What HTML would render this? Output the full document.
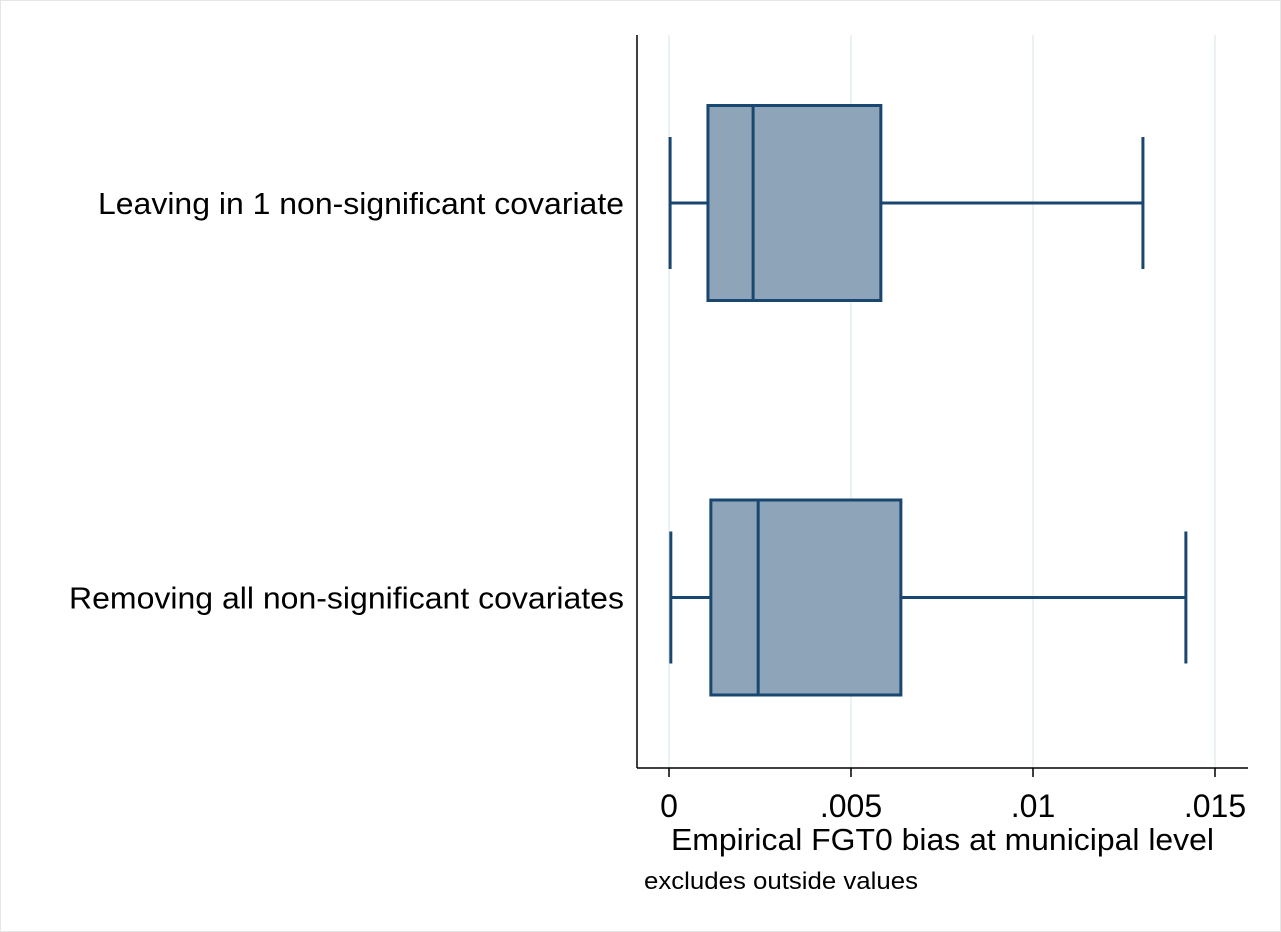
<!DOCTYPE html>
<html><head><meta charset="utf-8"><style>
html,body{margin:0;padding:0;background:#fff;}
svg{display:block;font-family:"Liberation Sans",Arial,sans-serif;}
</style></head><body>
<svg id="chart" width="1281" height="932" viewBox="0 0 1281 932">
<rect x="0.5" y="0.5" width="1280" height="931" fill="#fff" stroke="#e6e6e6"/>
<g id="grid"></g>
<g id="boxes"></g>
<line x1="637" y1="35" x2="637" y2="768" stroke="#000" stroke-width="1.5"/>
<line x1="637" y1="768" x2="1248" y2="768" stroke="#000" stroke-width="1.5"/>
<g id="xticks"></g>
<g id="ylabels"></g>
<text x="671" y="850" font-size="31" textLength="543" lengthAdjust="spacingAndGlyphs">Empirical FGT0 bias at municipal level</text>
<text x="644" y="889" font-size="24" textLength="274" lengthAdjust="spacingAndGlyphs">excludes outside values</text>
</svg>
<script>
const categories = ["Leaving in 1 non-significant covariate","Removing all non-significant covariates"];
const whiskerLow = [0.00003, 0.00005];
const q1 = [0.00107, 0.00115];
const median = [0.00231, 0.00245];
const q3 = [0.00582, 0.00637];
const whiskerHigh = [0.01302, 0.01420];
const tickValues = [0, 0.005, 0.01, 0.015];
const tickLabels = ["0", ".005", ".01", ".015"];

const NS = "http://www.w3.org/2000/svg";
const xs = v => 669 + v * 36400;
const yc = i => 203 + i * 394.5;
function mk(tag, attrs, parent){const e=document.createElementNS(NS,tag);for(const k in attrs)e.setAttribute(k,attrs[k]);parent.appendChild(e);return e;}
const grid=document.getElementById('grid'), xt=document.getElementById('xticks'), yl=document.getElementById('ylabels'), bx=document.getElementById('boxes');
tickValues.forEach((v,i)=>{
  const g=mk('line',{x1:xs(v),x2:xs(v),y1:35,y2:768,stroke:'#eaf2f3','stroke-width':2},grid);
  
  
  const t=mk('line',{x1:xs(v),x2:xs(v),y1:768,y2:777,stroke:'#000','stroke-width':1.5},xt);
  
  
  const l=mk('text',{x:xs(v),y:817,'font-size':32,'text-anchor':'middle'},xt);
  l.textContent=tickLabels[i];
  
  
});
const labelW=[526,555];
categories.forEach((c,i)=>{
  const y=yc(i);
  const l=mk('text',{x:624,y:y+11,'font-size':31,'text-anchor':'end',textLength:labelW[i],lengthAdjust:'spacingAndGlyphs'},yl);
  l.textContent=c;
  
  
  const st={stroke:'#1a476f','stroke-width':3,fill:'none'};
  const w1=mk('line',Object.assign({x1:xs(whiskerLow[i]),x2:xs(q1[i]),y1:y,y2:y},st),bx);
  
  
  const w2=mk('line',Object.assign({x1:xs(q3[i]),x2:xs(whiskerHigh[i]),y1:y,y2:y},st),bx);
  
  
  const c1=mk('line',Object.assign({x1:xs(whiskerLow[i]),x2:xs(whiskerLow[i]),y1:y-66,y2:y+66},st),bx);
  
  
  const c2=mk('line',Object.assign({x1:xs(whiskerHigh[i]),x2:xs(whiskerHigh[i]),y1:y-66,y2:y+66},st),bx);
  
  
  const r=mk('rect',{x:xs(q1[i]),y:y-97.5,width:xs(q3[i])-xs(q1[i]),height:195,fill:'#8ea5b9',stroke:'#1a476f','stroke-width':3},bx);
  
  
  const m=mk('line',Object.assign({x1:xs(median[i]),x2:xs(median[i]),y1:y-97.5,y2:y+97.5},st),bx);
  
  
});
</script>
</body></html>
